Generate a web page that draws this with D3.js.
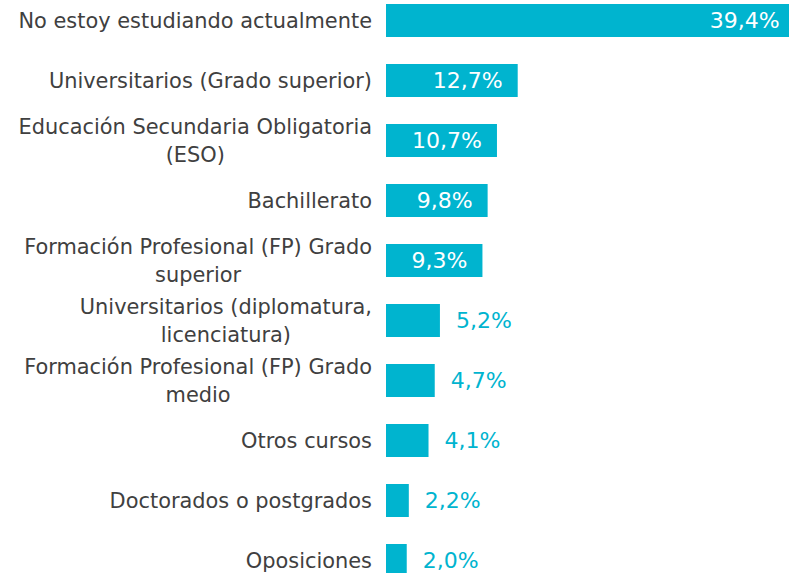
<!DOCTYPE html>
<html>
<head>
<meta charset="utf-8">
<script src="https://cdn.jsdelivr.net/npm/d3@7"></script>
<style>
  body { margin: 0; background: #fff; }
  svg { display: block; }
  .label { font-family: "DejaVu Sans", Verdana, sans-serif; font-size: 20.9px; fill: #404040; }
  .value { font-family: "DejaVu Sans", Verdana, sans-serif; font-size: 22px; }
</style>
</head>
<body>
<div id="chart"></div>
<script>
// categories (lines of each label) and values in %
const categories = [
  ["No estoy estudiando actualmente"],
  ["Universitarios (Grado superior)"],
  ["Educación Secundaria Obligatoria", "(ESO)"],
  ["Bachillerato"],
  ["Formación Profesional (FP) Grado", "superior"],
  ["Universitarios (diplomatura,", "licenciatura)"],
  ["Formación Profesional (FP) Grado", "medio"],
  ["Otros cursos"],
  ["Doctorados o postgrados"],
  ["Oposiciones"]
];
const values = [39.4, 12.7, 10.7, 9.8, 9.3, 5.2, 4.7, 4.1, 2.2, 2.0];
const valueLabels = ["39,4%", "12,7%", "10,7%", "9,8%", "9,3%", "5,2%", "4,7%", "4,1%", "2,2%", "2,0%"];

const width = 789, height = 573;
const barColor = "#00b4cf";
const insideMin = 9; // values above this get the label inside the bar

const data = values.map((v, i) => ({ lines: categories[i], value: v, text: valueLabels[i] }));

const x = d3.scaleLinear().domain([0, 40]).range([386, 386 + 40 * 10.37]);
const y = d3.scaleBand()
    .domain(d3.range(data.length))
    .range([-9.5, 590.5])
    .paddingInner(0.45)
    .paddingOuter(0.225);

const svg = d3.select("#chart").append("svg")
    .attr("width", width)
    .attr("height", height);

const row = svg.selectAll("g.row")
    .data(data)
    .join("g")
    .attr("class", "row");

row.append("rect")
    .attr("x", x(0))
    .attr("y", (d, i) => y(i))
    .attr("width", d => x(d.value) - x(0))
    .attr("height", y.bandwidth())
    .attr("fill", barColor);

row.append("text")
    .attr("class", "value")
    .attr("x", d => d.value > insideMin ? x(d.value) - 15 : x(d.value) + 16)
    .attr("y", (d, i) => y(i) + y.bandwidth() / 2)
    .attr("dy", "0.36em")
    .attr("text-anchor", d => d.value > insideMin ? "end" : "start")
    .attr("fill", d => d.value > insideMin ? "#ffffff" : barColor)
    .text(d => d.text);

// category labels: lines centred on each other, block right aligned
const lineH = 28;
row.each(function(d, i) {
  const g = d3.select(this);
  const cy = y(i) + y.bandwidth() / 2;
  const t = g.append("text")
      .attr("class", "label")
      .attr("text-anchor", "middle");
  d.lines.forEach((line, k) => {
    t.append("tspan")
      .attr("x", 0)
      .attr("y", cy + (k - (d.lines.length - 1) / 2) * lineH)
      .attr("dy", "0.36em")
      .text(line);
  });
  const w = t.node().getBBox().width;
  t.attr("transform", `translate(${372 - w / 2},0)`);
});
</script>
</body>
</html>
